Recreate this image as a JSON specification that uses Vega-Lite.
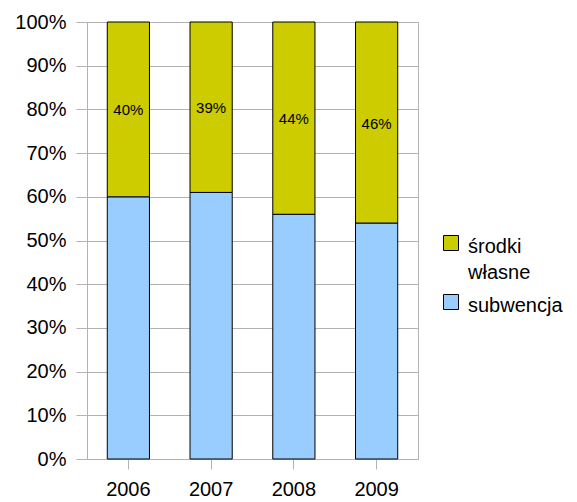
{
  "$schema": "https://vega.github.io/schema/vega-lite/v6.json",
  "width": 331,
  "height": 437,
  "autosize": "none",
  "padding": {"left": 87, "top": 22, "right": 159, "bottom": 43},
  "background": "white",
  "config": {
    "font": "Liberation Sans",
    "view": {"stroke": "#b3b3b3", "strokeWidth": 1},
    "axis": {"labelFont": "Liberation Sans", "labelFontSize": 20, "labelColor": "#000000", "gridColor": "#b3b3b3", "tickColor": "#b3b3b3", "domainColor": "#b3b3b3"}
  },
  "data": {
    "values": [
      {"year": "2006", "kind": "subwencja", "v": 0.60},
      {"year": "2006", "kind": "środki własne", "v": 0.40},
      {"year": "2007", "kind": "subwencja", "v": 0.61},
      {"year": "2007", "kind": "środki własne", "v": 0.39},
      {"year": "2008", "kind": "subwencja", "v": 0.56},
      {"year": "2008", "kind": "środki własne", "v": 0.44},
      {"year": "2009", "kind": "subwencja", "v": 0.54},
      {"year": "2009", "kind": "środki własne", "v": 0.46}
    ]
  },
  "encoding": {
    "x": {
      "field": "year", "type": "nominal", "title": null,
      "scale": {"paddingInner": 0.49, "paddingOuter": 0.245},
      "axis": {"labelAngle": 0, "tickSize": 10, "labelPadding": 10, "domain": true, "grid": false}
    }
  },
  "layer": [
    {
      "mark": {"type": "bar", "stroke": "#000000", "strokeWidth": 1},
      "encoding": {
        "y": {
          "field": "v", "type": "quantitative", "stack": "zero", "title": null,
          "scale": {"domain": [0, 1]},
          "axis": {"format": ".0%", "values": [0,0.1,0.2,0.3,0.4,0.5,0.6,0.7,0.8,0.9,1], "tickSize": 11, "labelPadding": 10, "domain": false, "grid": true}
        },
        "color": {
          "field": "kind", "type": "nominal",
          "scale": {"domain": ["środki własne", "subwencja"], "range": ["#cccc00", "#99ccff"]},
          "legend": {
            "title": null, "orient": "none", "legendX": 354, "legendY": 211,
            "symbolType": "square", "symbolSize": 225, "symbolStrokeColor": "#000000", "symbolStrokeWidth": 1, "symbolOpacity": 1,
            "labelFont": "Liberation Sans", "labelFontSize": 20, "labelColor": "#000000", "labelOffset": 7,
            "labelExpr": "datum.label == 'środki własne' ? ['środki', 'własne'] : datum.label",
            "labelBaseline": "middle", "rowPadding": 9,
            "encode": {"labels": {"update": {"lineHeight": {"value": 26}, "dy": {"value": 4}}}}
          }
        },
        "order": {"field": "kind", "sort": "ascending"}
      }
    },
    {
      "transform": [
        {"filter": "datum.kind == 'środki własne'"},
        {"calculate": "1 - datum.v / 2", "as": "mid"}
      ],
      "mark": {"type": "text", "font": "Liberation Sans", "fontSize": 15, "color": "#000000", "baseline": "middle", "dy": 1},
      "encoding": {
        "y": {"field": "mid", "type": "quantitative"},
        "text": {"field": "v", "type": "quantitative", "format": ".0%"}
      }
    }
  ]
}
